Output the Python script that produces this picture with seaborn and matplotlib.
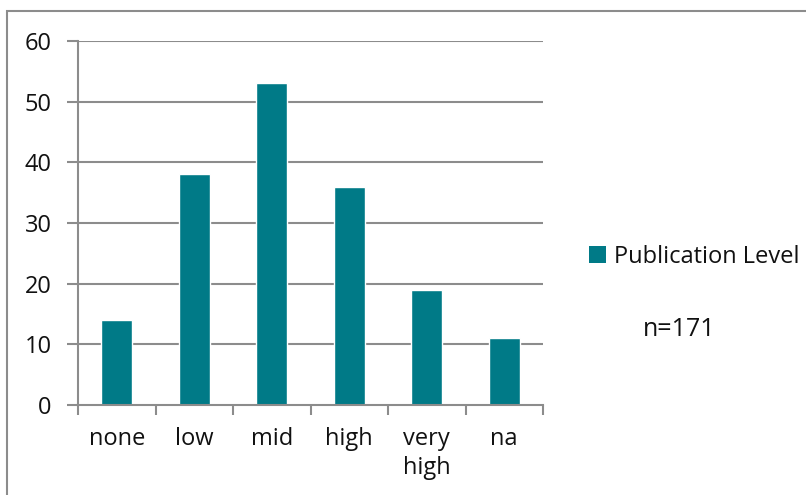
import matplotlib
matplotlib.use("Agg")
import matplotlib.pyplot as plt
import seaborn as sns
import pandas as pd
from matplotlib.patches import Rectangle, Patch

categories = ["none", "low", "mid", "high", "very\nhigh", "na"]
counts = [14, 38, 53, 36, 19, 11]
series_name = "Publication Level"
n_label = "n=171"
y_ticks = [0, 10, 20, 30, 40, 50, 60]

sns.set_theme(style="white")
plt.rcParams["font.family"] = ["Open Sans", "DejaVu Sans"]

bar_color = "#007A87"
grid_color = "#8C8C8C"
text_color = "#111111"
font_size = 17

df = pd.DataFrame({"level": categories, "count": counts})

fig = plt.figure(figsize=(8.06, 4.95), dpi=100)
ax = fig.add_axes([78 / 806, 1 - 405 / 495, (543 - 78) / 806, (405 - 41) / 495])

sns.barplot(data=df, x="level", y="count", color=bar_color, width=0.4,
            saturation=1, ax=ax, zorder=3)

ax.set_ylim(0, 60)
ax.set_xlim(-0.5, len(categories) - 0.5)
ax.set_yticks(y_ticks)
ax.set_xlabel("")
ax.set_ylabel("")

# horizontal gridlines
for yv in y_ticks[1:]:
    ax.axhline(yv, color=grid_color, lw=1.5, zorder=1)

for side in ["top", "right"]:
    ax.spines[side].set_visible(False)
ax.spines["left"].set_color(grid_color)
ax.spines["left"].set_linewidth(1.5)
ax.spines["bottom"].set_color(grid_color)
ax.spines["bottom"].set_linewidth(1.5)
ax.spines["bottom"].set_zorder(4)

# category boundary ticks on x, gridline stubs on y
ax.set_xticks([i - 0.5 for i in range(len(categories) + 1)], minor=True)
ax.tick_params(axis="x", which="major", length=0, pad=16, labelsize=font_size,
               labelcolor=text_color)
ax.tick_params(axis="x", which="minor", length=7, width=1.5, color=grid_color,
               direction="out", bottom=True)
ax.tick_params(axis="y", which="major", length=8, width=1.5, color=grid_color,
               direction="out", left=True, pad=11, labelsize=font_size,
               labelcolor=text_color)
for lbl in ax.get_xticklabels():
    lbl.set_verticalalignment("top")
    lbl.set_linespacing(1.25)

# legend and sample size note
handle = Patch(facecolor=bar_color, edgecolor="none")
fig.legend([handle], [series_name], loc="center left",
           bbox_to_anchor=(580 / 806, 1 - 257 / 495), frameon=False,
           fontsize=font_size, handlelength=0.7, handleheight=0.7,
           handletextpad=0.35, borderaxespad=0, labelcolor=text_color)
fig.text(679 / 806, 1 - 330 / 495, n_label, ha="center", va="center",
         fontsize=18, color=text_color)

# outer chart frame
fig.patches.append(Rectangle((6.5 / 806, -0.05), 1.2, 1 - 11 / 495 + 0.05,
                             transform=fig.transFigure, fill=False,
                             edgecolor="#8C8C8C", lw=1.5))

fig.savefig("out.png", dpi=100)
